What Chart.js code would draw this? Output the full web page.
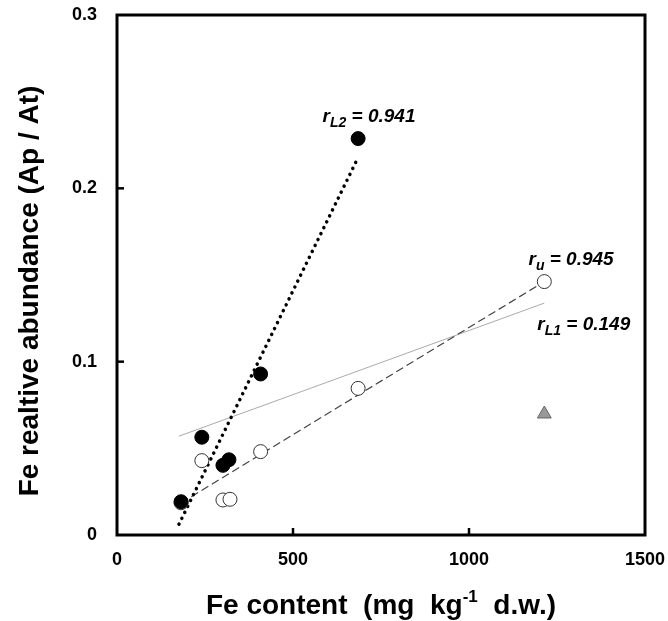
<!DOCTYPE html>
<html>
<head>
<meta charset="utf-8">
<script src="https://cdn.jsdelivr.net/npm/chart.js@4"></script>
<style>
  html, body { margin: 0; padding: 0; background: #fff; }
  #wrap { width: 668px; height: 621px; }
</style>
</head>
<body>
<div id="wrap"><canvas id="grafica" width="668" height="621"></canvas></div>
<script>
// ===============================
// DATOS
// ===============================
const xL2 = [182, 241, 301, 318, 408, 685];
const yL2 = [0.0192, 0.0564, 0.0402, 0.0434, 0.0929, 0.2287];

const xU = [182, 241, 301, 321, 408, 685, 1214];
const yU = [0.0186, 0.0429, 0.0202, 0.0206, 0.0481, 0.0846, 0.1462];

const xTri = [1214];
const yTri = [0.0698];

// lineas de ajuste (extremos)
const xLineaL2 = [176, 679];
const yLineaL2 = [0.0062, 0.2153];
const xLineaU = [182, 1214];
const yLineaU = [0.0185, 0.1462];
const xLineaL1 = [176, 1214];
const yLineaL1 = [0.0570, 0.1338];

const xTicks = [0, 500, 1000, 1500];
const yTicks = [0, 0.1, 0.2, 0.3];

// etiquetas r
const etiquetas = [
  { base: "r", sub: "L2", resto: " = 0.941", x: 584, y: 0.238 },
  { base: "r", sub: "u", resto: " = 0.945", x: 1169, y: 0.156 },
  { base: "r", sub: "L1", resto: " = 0.149", x: 1194, y: 0.118 }
];

const tituloX = { a: "Fe content  (mg  kg", sup: "-1", b: "  d.w.)" };
const tituloY = "Fe realtive abundance (Ap / At)";

const FUENTE = "'Liberation Sans', Arial, sans-serif";

function puntos(xs, ys) {
  return xs.map((x, i) => ({ x: x, y: ys[i] }));
}

// ===============================
// PLUGIN: caja, ticks internos, titulos, etiquetas
// ===============================
const extras = {
  id: "extras",
  afterDraw(chart) {
    const ctx = chart.ctx;
    const a = chart.chartArea;
    const sx = chart.scales.x;
    const sy = chart.scales.y;
    ctx.save();

    // marco
    ctx.strokeStyle = "#000";
    ctx.lineWidth = 3;
    ctx.strokeRect(a.left, a.top, a.right - a.left, a.bottom - a.top);

    // ticks hacia adentro
    ctx.lineWidth = 2.5;
    xTicks.slice(1, -1).forEach(v => {
      const px = sx.getPixelForValue(v);
      ctx.beginPath();
      ctx.moveTo(px, a.bottom);
      ctx.lineTo(px, a.bottom - 7);
      ctx.stroke();
    });
    yTicks.slice(1, -1).forEach(v => {
      const py = sy.getPixelForValue(v);
      ctx.beginPath();
      ctx.moveTo(a.left, py);
      ctx.lineTo(a.left + 7, py);
      ctx.stroke();
    });

    // etiquetas r
    ctx.fillStyle = "#000";
    ctx.textBaseline = "alphabetic";
    ctx.textAlign = "left";
    etiquetas.forEach(e => {
      let px = sx.getPixelForValue(e.x);
      const py = sy.getPixelForValue(e.y);
      ctx.font = "italic bold 19px " + FUENTE;
      ctx.fillText(e.base, px, py);
      px += ctx.measureText(e.base).width;
      ctx.font = "italic bold 14px " + FUENTE;
      ctx.fillText(e.sub, px, py + 5);
      px += ctx.measureText(e.sub).width;
      ctx.font = "italic bold 19px " + FUENTE;
      ctx.fillText(e.resto, px, py);
    });

    // titulo eje X
    ctx.font = "bold 28px " + FUENTE;
    const wA = ctx.measureText(tituloX.a).width;
    const wB = ctx.measureText(tituloX.b).width;
    ctx.font = "bold 17px " + FUENTE;
    const wS = ctx.measureText(tituloX.sup).width;
    const total = wA + wS + wB;
    let tx = (a.left + a.right) / 2 - total / 2;
    const ty = 614;
    ctx.font = "bold 28px " + FUENTE;
    ctx.fillText(tituloX.a, tx, ty);
    tx += wA;
    ctx.font = "bold 17px " + FUENTE;
    ctx.fillText(tituloX.sup, tx, ty - 12);
    tx += wS;
    ctx.font = "bold 28px " + FUENTE;
    ctx.fillText(tituloX.b, tx, ty);

    // titulo eje Y
    ctx.translate(30, 291);
    ctx.rotate(-Math.PI / 2);
    ctx.textAlign = "center";
    ctx.textBaseline = "middle";
    ctx.fillText(tituloY, 0, 0);

    ctx.restore();
  }
};

// ===============================
// GRAFICA
// ===============================
const ctx = document.getElementById("grafica").getContext("2d");

new Chart(ctx, {
  type: "scatter",
  data: {
    datasets: [
      {
        label: "L2",
        data: puntos(xL2, yL2),
        backgroundColor: "#000",
        borderColor: "#000",
        borderWidth: 1,
        pointRadius: 7,
        pointHoverRadius: 7
      },
      {
        label: "U",
        data: puntos(xU, yU),
        backgroundColor: "#fff",
        borderColor: "#333",
        borderWidth: 1,
        pointRadius: 7,
        pointHoverRadius: 7
      },
      {
        label: "L1",
        data: puntos(xTri, yTri),
        pointStyle: "triangle",
        backgroundColor: "#999",
        borderColor: "#666",
        borderWidth: 1,
        pointRadius: 8,
        pointHoverRadius: 8
      },
      {
        label: "ajuste L2",
        data: puntos(xLineaL2, yLineaL2),
        showLine: true,
        borderColor: "#000",
        borderWidth: 3.5,
        borderDash: [0.1, 6.5],
        borderCapStyle: "round",
        pointRadius: 0
      },
      {
        label: "ajuste U",
        data: puntos(xLineaU, yLineaU),
        showLine: true,
        borderColor: "#444",
        borderWidth: 1.2,
        borderDash: [8, 4],
        pointRadius: 0
      },
      {
        label: "ajuste L1",
        data: puntos(xLineaL1, yLineaL1),
        showLine: true,
        borderColor: "#aaa",
        borderWidth: 1,
        pointRadius: 0
      }
    ]
  },
  options: {
    responsive: false,
    animation: false,
    layout: { padding: { left: 0, right: 23, top: 15, bottom: 0 } },
    plugins: {
      legend: { display: false },
      tooltip: { enabled: false }
    },
    scales: {
      x: {
        type: "linear",
        min: 0,
        max: 1500,
        grid: { display: false, tickLength: 16 },
        border: { display: false },
        afterFit: s => { s.height = 86; },
        afterBuildTicks: s => { s.ticks = xTicks.map(v => ({ value: v })); },
        ticks: {
          color: "#000",
          padding: 0,
          font: { family: FUENTE, size: 18, weight: "bold", lineHeight: 1 },
          callback: v => String(v)
        }
      },
      y: {
        type: "linear",
        min: 0,
        max: 0.3,
        grid: { display: false, tickLength: 20 },
        border: { display: false },
        afterFit: s => { s.width = 117; },
        afterBuildTicks: s => { s.ticks = yTicks.map(v => ({ value: v })); },
        ticks: {
          color: "#000",
          padding: 0,
          font: { family: FUENTE, size: 18, weight: "bold", lineHeight: 1 },
          callback: v => (v === 0 ? "0" : v.toFixed(1))
        }
      }
    }
  },
  plugins: [extras]
});
</script>
</body>
</html>
